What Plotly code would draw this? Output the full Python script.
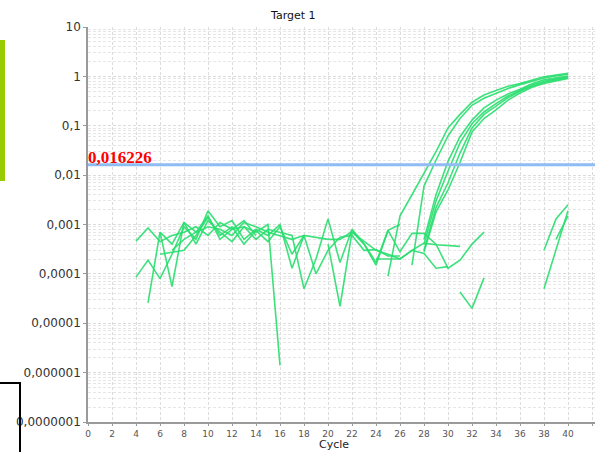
import math
import plotly.graph_objects as go

# ---------------- data ----------------
threshold = 0.016226
threshold_label = "0,016226"
title = "Target 1"
x_title = "Cycle"

y_tickvals = [10, 1, 0.1, 0.01, 0.001, 0.0001, 0.00001, 0.000001, 0.0000001]
y_ticktext = ["10", "1", "0,1", "0,01", "0,001", "0,0001", "0,00001", "0,000001", "0,0000001"]
x_tickvals = list(range(0, 43, 2))

# amplification curves (start cycle, values)
amp_a_start, amp_a = 25, [9e-5, 0.0015, 0.004, 0.011, 0.03, 0.09, 0.17, 0.3, 0.42, 0.52, 0.63, 0.72, 0.85, 0.98, 1.07, 1.15]
amp_b_start, amp_b = 27, [0.00015, 0.006, 0.02, 0.062, 0.14, 0.26, 0.36, 0.46, 0.57, 0.68, 0.8, 0.93, 1.02, 1.1]
amp_c_start, amp_c = 28, [0.0005, 0.004, 0.019, 0.06, 0.13, 0.23, 0.33, 0.44, 0.55, 0.71, 0.85, 0.94, 1.01]
amp_d_start, amp_d = 28, [0.0004, 0.003, 0.012, 0.045, 0.11, 0.19, 0.28, 0.4, 0.52, 0.67, 0.8, 0.9, 0.98]
amp_e_start, amp_e = 28, [0.0003, 0.0022, 0.007, 0.028, 0.09, 0.17, 0.25, 0.37, 0.5, 0.63, 0.76, 0.86, 0.94]
amp_f_start, amp_f = 28, [0.00028, 0.0018, 0.005, 0.018, 0.075, 0.14, 0.21, 0.33, 0.46, 0.6, 0.72, 0.82, 0.91]

# noise (non-amplifying) traces
noise_1_start, noise_1 = 4, [0.00046, 0.00085, 0.00045, 0.0006, 0.0007, 0.0009, 0.0006, 0.0011, 0.0008, 0.0009, 0.0007, 0.0010, 1.4e-6]
noise_2_start, noise_2 = 4, [8.6e-5, 0.00019, 8e-5, 0.00025, 0.0009, 0.0005, 0.0019, 0.0009, 0.0012, 0.0005, 0.0008, 0.0006,
                             0.001, 0.00013, 0.0006, 0.00055, 0.0005, 0.0005, 0.00072, 0.0004, 0.00015, 0.00076, 0.00028,
                             0.00066, 0.00066, 0.0004, 0.00013, 0.00019, 0.0004, 0.0007]
noise_3_start, noise_3 = 5, [2.6e-5, 0.0007, 5.5e-5, 0.0011, 0.0004, 0.0012, 0.0007, 0.00045, 0.0009, 0.0005, 0.0008,
                             0.0007, 0.0006, 5e-5, 0.0002, 0.0013, 0.00017, 0.0008, 0.00041, 0.00017, 0.00076, 0.001]
noise_4_start, noise_4 = 6, [0.00025, 0.00027, 0.0003, 0.0006, 0.0014, 0.0006, 0.0009, 0.0004, 0.00075, 0.00045, 0.0009,
                             0.00025, 0.0006, 0.0001, 0.0003, 0.00055, 0.0006, 0.0003, 0.00031, 0.00023, 0.00023]
noise_5_start, noise_5 = 6, [0.0007, 0.0004, 0.0011, 0.0007, 0.0015, 0.0005, 0.0008, 0.0012, 0.0006]
noise_6_start, noise_6 = 7, [0.0003, 0.0005, 0.0007, 0.0009, 0.0008, 0.0006, 0.0011, 0.0009, 0.0007, 0.0006, 0.0005, 0.0006]
noise_7_start, noise_7 = 20, [0.0004, 2.2e-5, 0.0007, 0.00045, 0.0003, 0.00025, 0.0002, 0.0003, 0.00026, 0.00013, 0.00014]
noise_8_start, noise_8 = 24, [0.0002, 0.0002, 0.0002, 0.0003, 0.00042, 0.00039, 0.00037, 0.00036]
noise_9_start, noise_9 = 31, [4.3e-5, 2e-5, 8.3e-5]
tail_1_start, tail_1 = 38, [5e-5, 0.0003, 0.0019]
tail_2_start, tail_2 = 38, [0.0003, 0.0013, 0.0025]
tail_3_start, tail_3 = 39, [0.0005, 0.0015]

series = [
    (amp_a_start, amp_a), (amp_b_start, amp_b), (amp_c_start, amp_c),
    (amp_d_start, amp_d), (amp_e_start, amp_e), (amp_f_start, amp_f),
    (noise_1_start, noise_1), (noise_2_start, noise_2), (noise_3_start, noise_3),
    (noise_4_start, noise_4), (noise_5_start, noise_5), (noise_6_start, noise_6),
    (noise_7_start, noise_7), (noise_8_start, noise_8), (noise_9_start, noise_9),
    (tail_1_start, tail_1), (tail_2_start, tail_2), (tail_3_start, tail_3),
]

# ---------------- figure ----------------
W, H = 595, 452
L, R, T, B = 88, 0, 27, 30
plot_w, plot_h = W - L - R, H - T - B

def px_x(px):
    return (px - L) / plot_w

def px_y(py):
    return (H - B - py) / plot_h

FONT = "DejaVu Sans, Verdana, sans-serif"
line_color = "rgba(40,222,110,0.9)"
fig = go.Figure()
for start, vals in series:
    fig.add_trace(go.Scatter(
        x=list(range(start, start + len(vals))), y=vals, mode="lines",
        line=dict(color=line_color, width=1.6), hoverinfo="skip", showlegend=False))

fig.add_trace(go.Scatter(
    x=[0, 42.25], y=[threshold, threshold], mode="lines",
    line=dict(color="#8fbcf2", width=3), hoverinfo="skip", showlegend=False))

grid_col = "#dcdcdc"
fig.update_xaxes(
    range=[0, 42.25], tickvals=x_tickvals, ticktext=[str(v) for v in x_tickvals],
    showgrid=True, gridcolor=grid_col, griddash="3px,2px", gridwidth=1,
    showline=True, linecolor="#9a9a9a", linewidth=1.5,
    ticks="outside", ticklen=2, tickcolor="#9a9a9a",
    tickfont=dict(family=FONT, size=9, color="#555"),
    zeroline=False)
fig.update_yaxes(
    type="log", range=[-7, 1], tickvals=y_tickvals, ticktext=y_ticktext,
    showgrid=True, gridcolor=grid_col, griddash="3px,2px", gridwidth=1,
    minor=dict(showgrid=True, gridcolor="#e6e6e6", griddash="3px,2px", ticks="",
               tickvals=[m * 10 ** e for e in range(-7, 1) for m in range(2, 10)]),
    showline=True, linecolor="#9a9a9a", linewidth=1.5,
    ticks="outside", ticklen=3, tickcolor="#9a9a9a",
    tickfont=dict(family=FONT, size=12, color="#333"),
    zeroline=False)

fig.update_layout(
    width=W, height=H, margin=dict(l=L, r=R, t=T, b=B, autoexpand=False),
    paper_bgcolor="white", plot_bgcolor="white", showlegend=False,
    annotations=[
        dict(text=title, xref="paper", yref="paper", x=px_x(293), y=px_y(15),
             showarrow=False, xanchor="center", yanchor="middle",
             font=dict(family=FONT, size=11, color="#111")),
        dict(text=x_title, xref="paper", yref="paper", x=px_x(334), y=px_y(444),
             showarrow=False, xanchor="center", yanchor="middle",
             font=dict(family=FONT, size=11, color="#222")),
        dict(text="<b>" + threshold_label + "</b>", xref="paper", yref="y", x=px_x(86),
             y=math.log10(threshold),
             showarrow=False, xanchor="left", yanchor="bottom", yshift=-4,
             font=dict(family="Liberation Serif, Times New Roman", size=17, color="#ff0000")),
    ],
    shapes=[
        dict(type="rect", xref="paper", yref="paper", x0=px_x(0), x1=px_x(5),
             y0=px_y(181), y1=px_y(40), fillcolor="#99cc00", line=dict(width=0)),
        dict(type="line", xref="paper", yref="paper", x0=px_x(0), x1=px_x(21),
             y0=px_y(383), y1=px_y(383), line=dict(color="black", width=2)),
        dict(type="line", xref="paper", yref="paper", x0=px_x(20), x1=px_x(20),
             y0=px_y(383), y1=px_y(452), line=dict(color="black", width=2)),
    ],
)

fig.write_html("out.html")
